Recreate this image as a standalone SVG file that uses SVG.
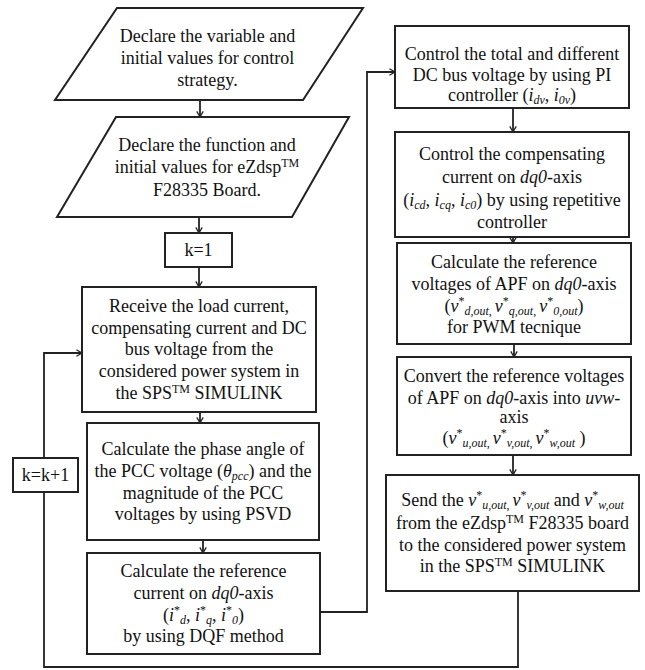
<svg xmlns="http://www.w3.org/2000/svg" width="645" height="670" viewBox="0 0 645 670">
<style>
  .n { fill: #fff; stroke: #222; stroke-width: 2; }
  .c { fill: none; stroke: #222; stroke-width: 1.8; }
  text { font-family: "Liberation Serif", "Times New Roman", "DejaVu Serif", serif; font-size: 18px; fill: #111; text-anchor: middle; }
  .i { font-style: italic; }
  .s { font-size: 12px; }
</style>
<defs>
  <marker id="ah" viewBox="0 0 10 10" refX="8" refY="5" markerWidth="8" markerHeight="8" markerUnits="userSpaceOnUse" orient="auto">
    <path d="M1,1 L8,5 L1,9" fill="none" stroke="#222" stroke-width="1.6"/>
  </marker>
</defs>
<rect width="645" height="670" fill="#fff"/>

<g id="connectors">
  <path class="c" d="M200,100 V117" marker-end="url(#ah)"/>
  <path class="c" d="M199,217 V233" marker-end="url(#ah)"/>
  <path class="c" d="M199,267 V287" marker-end="url(#ah)"/>
  <path class="c" d="M200,412 V423" marker-end="url(#ah)"/>
  <path class="c" d="M203,540 V553" marker-end="url(#ah)"/>
  <path class="c" d="M320,612 H367 V72 H395" marker-end="url(#ah)"/>
  <path class="c" d="M513,108 V132" marker-end="url(#ah)"/>
  <path class="c" d="M513,237 V243" marker-end="url(#ah)"/>
  <path class="c" d="M514,344 V357" marker-end="url(#ah)"/>
  <path class="c" d="M513,455 V475" marker-end="url(#ah)"/>
  <path class="c" d="M518,591 V667 H44 V353 H82" marker-end="url(#ah)"/>
</g>

<g id="declare-variables">
  <polygon class="n" points="117,8 363,8 303,100 55,100"/>
  <text x="207.5" y="42">Declare the variable and</text>
  <text x="207.5" y="64">initial values for control</text>
  <text x="207.5" y="86">strategy.</text>
</g>

<g id="declare-function">
  <polygon class="n" points="116,117 349,117 292,217 57,217"/>
  <text x="207" y="151">Declare the function and</text>
  <text x="207" y="173">initial values for eZdsp<tspan class="s" dy="-6">TM</tspan></text>
  <text x="207" y="196">F28335 Board.</text>
</g>

<g id="k-init">
  <rect class="n" x="165" y="233" width="67" height="34"/>
  <text x="198.5" y="256">k=1</text>
</g>

<g id="receive">
  <rect class="n" x="82" y="287" width="234" height="125"/>
  <text x="199" y="312">Receive the load current,</text>
  <text x="199" y="333.5">compensating current and DC</text>
  <text x="199" y="355">bus voltage from the</text>
  <text x="199" y="376.5">considered power system in</text>
  <text x="199" y="398.5">the SPS<tspan class="s" dy="-6">TM</tspan><tspan dy="6"> SIMULINK</tspan></text>
</g>

<g id="pcc">
  <rect class="n" x="87" y="423" width="232" height="117"/>
  <text x="203" y="455">Calculate the phase angle of</text>
  <text x="203" y="477">the PCC voltage (<tspan class="i">θ</tspan><tspan class="i s" dy="3">pcc</tspan><tspan dy="-3">) and the</tspan></text>
  <text x="203" y="498.5">magnitude of the PCC</text>
  <text x="203" y="520">voltages by using PSVD</text>
</g>

<g id="dqf">
  <rect class="n" x="87" y="553" width="233" height="101"/>
  <text x="203.5" y="577">Calculate the reference</text>
  <text x="203.5" y="598.5">current on <tspan class="i">dq0</tspan>-axis</text>
  <text x="203.5" y="620.5">(<tspan class="i">i</tspan><tspan class="s" dy="-7">*</tspan><tspan class="i s" dy="10">d</tspan><tspan dy="-3">, </tspan><tspan class="i">i</tspan><tspan class="s" dy="-7">*</tspan><tspan class="i s" dy="10">q</tspan><tspan dy="-3">, </tspan><tspan class="i">i</tspan><tspan class="s" dy="-7">*</tspan><tspan class="i s" dy="10">0</tspan><tspan dy="-3">)</tspan></text>
  <text x="203.5" y="642">by using DQF method</text>
</g>

<g id="k-increment">
  <rect class="n" x="13" y="458" width="65" height="34"/>
  <text x="45.5" y="481">k=k+1</text>
</g>

<g id="dc-bus">
  <rect class="n" x="395" y="26" width="234" height="82"/>
  <text x="512" y="60">Control the total and different</text>
  <text x="512" y="81">DC bus voltage by using PI</text>
  <text x="512" y="101">controller (<tspan class="i">i</tspan><tspan class="i s" dy="3">dv</tspan><tspan dy="-3">, </tspan><tspan class="i">i</tspan><tspan class="i s" dy="3">0v</tspan><tspan dy="-3">)</tspan></text>
</g>

<g id="compensating">
  <rect class="n" x="395" y="132" width="234" height="105"/>
  <text x="512" y="160">Control the compensating</text>
  <text x="512" y="183">current on <tspan class="i">dq0</tspan>-axis</text>
  <text x="512" y="206">(<tspan class="i">i</tspan><tspan class="i s" dy="3">cd</tspan><tspan dy="-3">, </tspan><tspan class="i">i</tspan><tspan class="i s" dy="3">cq</tspan><tspan dy="-3">, </tspan><tspan class="i">i</tspan><tspan class="i s" dy="3">c0</tspan><tspan dy="-3">) by using repetitive</tspan></text>
  <text x="512" y="228">controller</text>
</g>

<g id="ref-voltage-dq0">
  <rect class="n" x="397" y="243" width="234" height="101"/>
  <text x="514" y="268">Calculate the reference</text>
  <text x="514" y="290">voltages of APF on <tspan class="i">dq0</tspan>-axis</text>
  <text x="514" y="312">(<tspan class="i">v</tspan><tspan class="s" dy="-7">*</tspan><tspan class="i s" dy="10">d,out</tspan><tspan class="s">, </tspan><tspan dy="-3" class="i">v</tspan><tspan class="s" dy="-7">*</tspan><tspan class="i s" dy="10">q,out</tspan><tspan class="s">, </tspan><tspan dy="-3" class="i">v</tspan><tspan class="s" dy="-7">*</tspan><tspan class="i s" dy="10">0,out</tspan><tspan dy="-3">)</tspan></text>
  <text x="514" y="333">for PWM tecnique</text>
</g>

<g id="convert-uvw">
  <rect class="n" x="397" y="357" width="234" height="98"/>
  <text x="514" y="382">Convert the reference voltages</text>
  <text x="514" y="403.5">of APF on <tspan class="i">dq0</tspan>-axis into <tspan class="i">uvw</tspan>-</text>
  <text x="514" y="423">axis</text>
  <text x="514" y="444">(<tspan class="i">v</tspan><tspan class="s" dy="-7">*</tspan><tspan class="i s" dy="10">u,out</tspan><tspan class="s">, </tspan><tspan dy="-3" class="i">v</tspan><tspan class="s" dy="-7">*</tspan><tspan class="i s" dy="10">v,out</tspan><tspan class="s">, </tspan><tspan dy="-3" class="i">v</tspan><tspan class="s" dy="-7">*</tspan><tspan class="i s" dy="10">w,out</tspan><tspan dy="-3"> )</tspan></text>
</g>

<g id="send">
  <rect class="n" x="386" y="475" width="253" height="116"/>
  <text x="512.5" y="506">Send the <tspan class="i">v</tspan><tspan class="s" dy="-7">*</tspan><tspan class="i s" dy="10">u,out</tspan><tspan class="s">, </tspan><tspan dy="-3" class="i">v</tspan><tspan class="s" dy="-7">*</tspan><tspan class="i s" dy="10">v,out</tspan><tspan dy="-3"> and </tspan><tspan class="i">v</tspan><tspan class="s" dy="-7">*</tspan><tspan class="i s" dy="10">w,out</tspan></text>
  <text x="512.5" y="529">from the eZdsp<tspan class="s" dy="-6">TM</tspan><tspan dy="6"> F28335 board</tspan></text>
  <text x="512.5" y="550.5">to the considered power system</text>
  <text x="512.5" y="572">in the SPS<tspan class="s" dy="-6">TM</tspan><tspan dy="6"> SIMULINK</tspan></text>
</g>
</svg>
